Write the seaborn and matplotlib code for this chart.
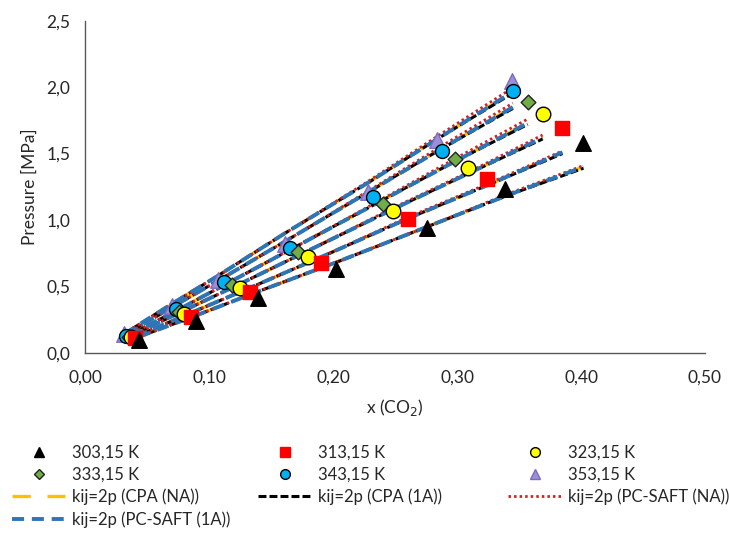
import matplotlib
matplotlib.use("Agg")
import matplotlib.pyplot as plt
from matplotlib.lines import Line2D
from matplotlib.ticker import FuncFormatter, MultipleLocator
import seaborn as sns
import pandas as pd

sns.set_style("white")
plt.rcParams['font.family'] = ['Lato', 'DejaVu Sans']

# ---------------- data ----------------
temps = ["303,15 K", "313,15 K", "323,15 K", "333,15 K", "343,15 K", "353,15 K"]

x_303 = [0.043, 0.089, 0.139, 0.202, 0.276, 0.339, 0.402]
p_303 = [0.10, 0.24, 0.41, 0.63, 0.94, 1.23, 1.58]
x_313 = [0.040, 0.085, 0.133, 0.190, 0.260, 0.324, 0.385]
p_313 = [0.11, 0.27, 0.46, 0.68, 1.01, 1.31, 1.69]
x_323 = [0.037, 0.080, 0.125, 0.180, 0.248, 0.309, 0.369]
p_323 = [0.12, 0.29, 0.49, 0.72, 1.07, 1.39, 1.80]
x_333 = [0.035, 0.076, 0.118, 0.172, 0.240, 0.298, 0.357]
p_333 = [0.12, 0.31, 0.51, 0.76, 1.12, 1.46, 1.89]
x_343 = [0.033, 0.073, 0.112, 0.165, 0.232, 0.288, 0.345]
p_343 = [0.13, 0.33, 0.53, 0.79, 1.17, 1.52, 1.97]
x_353 = [0.031, 0.070, 0.107, 0.161, 0.228, 0.284, 0.344]
p_353 = [0.14, 0.35, 0.55, 0.82, 1.21, 1.60, 2.05]

x_exp = [x_303, x_313, x_323, x_333, x_343, x_353]
p_exp = [p_303, p_313, p_323, p_333, p_343, p_353]

# model curves (evaluated at the experimental compositions)
model_cpa_na = [
    [0.12, 0.28, 0.46, 0.68, 0.95, 1.18, 1.40],
    [0.12, 0.30, 0.49, 0.72, 1.01, 1.26, 1.51],
    [0.13, 0.32, 0.52, 0.77, 1.08, 1.35, 1.62],
    [0.13, 0.33, 0.54, 0.81, 1.15, 1.44, 1.73],
    [0.14, 0.36, 0.57, 0.86, 1.23, 1.54, 1.85],
    [0.14, 0.37, 0.58, 0.90, 1.28, 1.61, 1.96],
]
model_cpa_1a = [
    [0.12, 0.28, 0.46, 0.68, 0.95, 1.18, 1.39],
    [0.12, 0.30, 0.49, 0.72, 1.01, 1.26, 1.50],
    [0.13, 0.32, 0.52, 0.77, 1.08, 1.35, 1.61],
    [0.13, 0.33, 0.54, 0.81, 1.15, 1.44, 1.72],
    [0.14, 0.36, 0.57, 0.86, 1.23, 1.54, 1.84],
    [0.14, 0.37, 0.58, 0.90, 1.28, 1.61, 1.95],
]
model_saft_na = [
    [0.12, 0.28, 0.46, 0.68, 0.95, 1.19, 1.41],
    [0.12, 0.30, 0.49, 0.72, 1.02, 1.27, 1.52],
    [0.13, 0.32, 0.52, 0.77, 1.09, 1.36, 1.64],
    [0.13, 0.33, 0.54, 0.81, 1.16, 1.46, 1.76],
    [0.14, 0.36, 0.57, 0.86, 1.24, 1.56, 1.88],
    [0.14, 0.37, 0.58, 0.90, 1.29, 1.63, 1.99],
]
model_saft_1a = [
    [0.12, 0.28, 0.46, 0.68, 0.95, 1.18, 1.40],
    [0.12, 0.30, 0.49, 0.72, 1.01, 1.26, 1.51],
    [0.13, 0.32, 0.52, 0.77, 1.08, 1.35, 1.62],
    [0.13, 0.33, 0.54, 0.81, 1.15, 1.44, 1.73],
    [0.14, 0.36, 0.57, 0.86, 1.23, 1.54, 1.85],
    [0.14, 0.37, 0.58, 0.90, 1.28, 1.61, 1.96],
]
model_names = ["kij=2p (CPA (NA))", "kij=2p (CPA (1A))",
               "kij=2p (PC-SAFT (NA))", "kij=2p (PC-SAFT (1A))"]
model_values = [model_cpa_na, model_cpa_1a, model_saft_na, model_saft_1a]

# ---------------- styles ----------------
mk_shape = ['^', 's', 'o', 'D', 'o', '^']
mk_face = ['#000000', '#FF0000', '#FFFF00', '#70AD47', '#00B0F0', '#9C8FD8']
mk_edge = ['#000000', '#FF0000', '#000000', '#222222', '#000000', '#7A6BC0']
mk_size = [125, 110, 110, 56, 100, 125]

ln_color = ['#FFC000', '#000000', '#D42020', '#2E75B6']
ln_width = [2.4, 2.2, 2.0, 2.8]
ln_dash = [(5.5, 5.0), (2.6, 1.0), (0.9, 1.1), (3.1, 2.0)]

fig = plt.figure(figsize=(7.29, 5.33), dpi=100)
ax = fig.add_axes([0.117, 0.338, 0.850, 0.623])

# model lines
for m in range(4):
    for t in range(6):
        sns.lineplot(x=x_exp[t], y=model_values[m][t], ax=ax, color=ln_color[m],
                     linewidth=ln_width[m], sort=False, estimator=None,
                     legend=False, zorder=2 + m * 0.1)
        ax.lines[-1].set_dashes(ln_dash[m])

# experimental points
for t in reversed(range(6)):
    df = pd.DataFrame({"x": x_exp[t], "p": p_exp[t]})
    sns.scatterplot(data=df, x="x", y="p", ax=ax, marker=mk_shape[t],
                    s=mk_size[t], color=mk_face[t], edgecolor=mk_edge[t],
                    linewidth=1.0, legend=False, zorder=3)

ax.set_xlim(0, 0.5)
ax.set_ylim(0, 2.5)
ax.xaxis.set_major_locator(MultipleLocator(0.1))
ax.yaxis.set_major_locator(MultipleLocator(0.5))
ax.xaxis.set_major_formatter(FuncFormatter(lambda v, p: f"{v:.2f}".replace('.', ',')))
ax.yaxis.set_major_formatter(FuncFormatter(lambda v, p: f"{v:.1f}".replace('.', ',')))

for s in ['top', 'right']:
    ax.spines[s].set_visible(False)
for s in ['left', 'bottom']:
    ax.spines[s].set_color('#595959')
    ax.spines[s].set_linewidth(1.0)
ax.tick_params(axis='both', which='major', direction='out', length=3.8, width=1,
               color='#595959', labelsize=12.5, labelcolor='#262626')
ax.tick_params(axis='x', pad=8.5)
ax.tick_params(axis='y', pad=7)
ax.set_xlabel("x (CO$_2$)", fontsize=12.5, color='#262626', labelpad=8)
ax.set_ylabel("Pressure [MPa]", fontsize=12.5, color='#262626', labelpad=6)

# legend - three columns
def mk_handle(t):
    return Line2D([], [], linestyle='none', marker=mk_shape[t],
                  markerfacecolor=mk_face[t], markeredgecolor=mk_edge[t],
                  markersize=7 if mk_shape[t] != 'D' else 5.5, markeredgewidth=1.0)

def ln_handle(m):
    return Line2D([], [], color=ln_color[m], linewidth=ln_width[m],
                  dashes=ln_dash[m])

cols = [
    ([mk_handle(0), mk_handle(3), ln_handle(0), ln_handle(3)],
     [temps[0], temps[3], model_names[0], model_names[3]], 0.0165),
    ([mk_handle(1), mk_handle(4), ln_handle(1)],
     [temps[1], temps[4], model_names[1]], 0.354),
    ([mk_handle(2), mk_handle(5), ln_handle(2)],
     [temps[2], temps[5], model_names[2]], 0.697),
]
for handles, labels, xpos in cols:
    fig.legend(handles, labels, loc='upper left', bbox_to_anchor=(xpos, 0.166),
               bbox_transform=fig.transFigure, frameon=False, fontsize=12,
               handlelength=3.2, handletextpad=0.4, labelspacing=0.36,
               borderaxespad=0, borderpad=0.0)

fig.savefig("out.png", dpi=100)
